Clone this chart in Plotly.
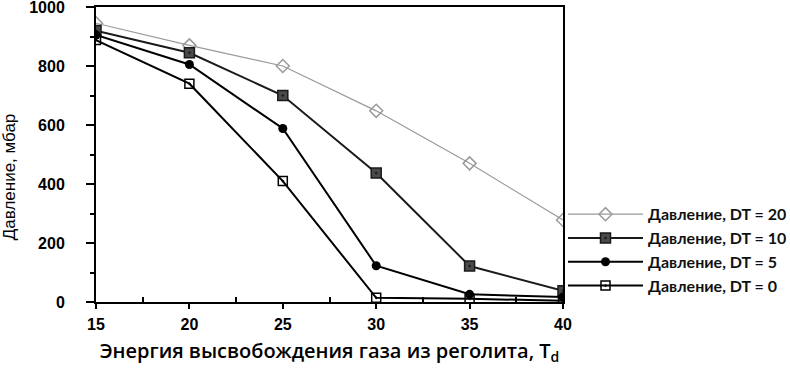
import plotly.graph_objects as go

x_vals = [15, 20, 25, 30, 35, 40]
dt20 = [945, 870, 800, 648, 470, 278]
dt10 = [920, 845, 700, 437, 122, 38]
dt5 = [905, 805, 588, 123, 26, 17]
dt0 = [888, 740, 410, 14, 11, 4]
names = ["Давление, DT = 20", "Давление, DT = 10", "Давление, DT = 5", "Давление, DT = 0"]
x_ticks = [15, 20, 25, 30, 35, 40]
y_ticks = [0, 200, 400, 600, 800, 1000]

fig = go.Figure()
fig.add_trace(go.Scatter(x=x_vals, y=dt20, name=names[0], mode="lines+markers",
                         line=dict(color="#9a9a9a", width=1.2),
                         marker=dict(symbol="diamond-open", size=10, color="#9a9a9a", line=dict(width=1.5))))
fig.add_trace(go.Scatter(x=x_vals, y=dt10, name=names[1], mode="lines+markers",
                         line=dict(color="#1a1a1a", width=2),
                         marker=dict(symbol="square-dot", size=10, color="#4a4a4a",
                                     line=dict(color="#1a1a1a", width=1.5))))
fig.add_trace(go.Scatter(x=x_vals, y=dt5, name=names[2], mode="lines+markers",
                         line=dict(color="#000000", width=2),
                         marker=dict(symbol="circle", size=9, color="#000000")))
fig.add_trace(go.Scatter(x=x_vals, y=dt0, name=names[3], mode="lines+markers",
                         line=dict(color="#000000", width=2),
                         marker=dict(symbol="square-open-dot", size=9, color="#000000", line=dict(width=1.5))))

fig.update_layout(
    width=790, height=371,
    margin=dict(l=96, r=227, t=7, b=69, autoexpand=False),
    paper_bgcolor="white", plot_bgcolor="white",
    showlegend=True,
    legend=dict(x=1.0, y=0.355, xanchor="left", yanchor="top",
                font=dict(family="Lato", size=16, color="#111", weight="bold"),
                itemwidth=75, tracegroupgap=0, bgcolor="rgba(0,0,0,0)"),
    xaxis=dict(range=[15, 40], tickvals=x_ticks, automargin=False,
               showgrid=False, zeroline=False, showline=True, linecolor="black", linewidth=2,
               mirror=True, ticks="outside", ticklen=5, tickwidth=2, tickcolor="black",
               ticklabelstandoff=2, ticklabeloverflow="allow",
               tickfont=dict(family="Liberation Sans", size=16, color="black", weight="bold"),
               minor=dict(tickvals=[17.5, 22.5, 27.5, 32.5, 37.5], ticks="inside", ticklen=5,
                          tickwidth=1.5, tickcolor="black"),
               title=dict(text="Энергия высвобождения газа из реголита, T<sub>d</sub>",
                          font=dict(family="Open Sans", size=20, color="black", weight=600),
                          standoff=12)),
    yaxis=dict(range=[0, 1000], tickvals=y_ticks, automargin=False,
               showgrid=False, zeroline=False, showline=True, linecolor="black", linewidth=2,
               mirror=True, ticks="outside", ticklen=8, tickwidth=2, tickcolor="black",
               ticklabelstandoff=18, ticklabeloverflow="allow",
               tickfont=dict(family="Liberation Sans", size=16, color="black", weight="bold"),
               minor=dict(tickvals=[100, 300, 500, 700, 900], ticks="outside", ticklen=4,
                          tickwidth=1.5, tickcolor="black")),
    annotations=[dict(text="Давление, мбар", textangle=-90, xref="paper", yref="paper",
                      x=-0.185, y=0.425, xanchor="center", yanchor="middle", showarrow=False,
                      font=dict(family="Liberation Sans", size=17, color="black"))],
)

fig.write_html("out.html", config={"displayModeBar": False},
               post_script="document.body.style.margin='0';")
